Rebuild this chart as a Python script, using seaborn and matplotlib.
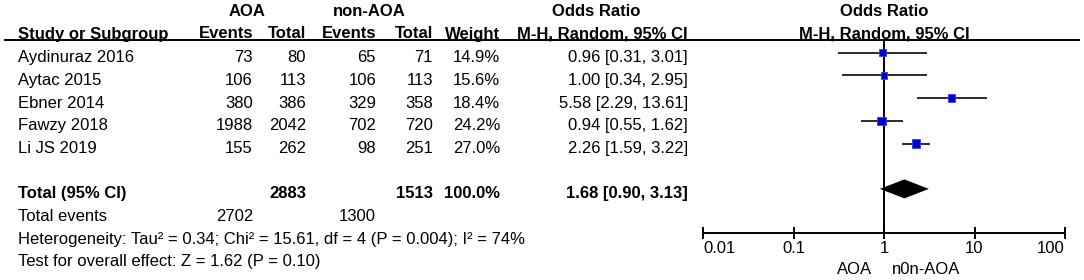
import numpy as np
import pandas as pd
import matplotlib
matplotlib.use("Agg")
import matplotlib.pyplot as plt
from matplotlib.ticker import NullLocator
import seaborn as sns

# ---------------- data ----------------
studies = ["Aydinuraz 2016", "Aytac 2015", "Ebner 2014", "Fawzy 2018", "Li JS 2019"]
aoa_events = [73, 106, 380, 1988, 155]
aoa_total = [80, 113, 386, 2042, 262]
non_events = [65, 106, 329, 702, 98]
non_total = [71, 113, 358, 720, 251]
weights = [14.9, 15.6, 18.4, 24.2, 27.0]
odds = [0.96, 1.00, 5.58, 0.94, 2.26]
ci_low = [0.31, 0.34, 2.29, 0.55, 1.59]
ci_high = [3.01, 2.95, 13.61, 1.62, 3.22]
total_aoa = 2883
total_non = 1513
total_weight = 100.0
total_events_aoa = 2702
total_events_non = 1300
total_or = 1.68
total_low = 0.90
total_high = 3.13
tick_values = [0.01, 0.1, 1, 10, 100]
tick_labels = ["0.01", "0.1", "1", "10", "100"]
heterogeneity = "Heterogeneity: Tau² = 0.34; Chi² = 15.61, df = 4 (P = 0.004); I² = 74%"
overall = "Test for overall effect: Z = 1.62 (P = 0.10)"
favours = ["AOA", "n0n-AOA"]

# ---------------- style ----------------
sns.set_theme(style="white")
plt.rcParams["font.family"] = ["Liberation Sans", "DejaVu Sans"]
FS = 12

W, H = 1084, 280
fig = plt.figure(figsize=(W / 100, H / 100), dpi=100)
fig.patch.set_facecolor("white")

# table axes in pixel coordinates
ax = fig.add_axes([0, 0, 1, 1])
ax.set_xlim(0, W)
ax.set_ylim(H, 0)
ax.axis("off")

# layout
x_name = 18
x_ae, x_at, x_ne, x_nt, x_w, x_or = 253, 306, 376, 433, 500, 688
y_h1, y_h2, y_rule = 12, 34, 40
row0, dy = 52.7, 22.7
txt_off = 5
row_y = [row0 + i * dy for i in range(len(studies))]
y_total = row0 + 6 * dy
y_tev = y_total + dy
y_het = y_tev + dy
y_test = y_het + dy

def t(x, y, s, ha="left", bold=False, fs=FS):
    ax.text(x, y, s, ha=ha, va="center", fontsize=fs,
            fontweight="bold" if bold else "normal", color="black")

# headers
t(247, y_h1, "AOA", ha="center", bold=True)
t(369, y_h1, "non-AOA", ha="center", bold=True)
t(596, y_h1, "Odds Ratio", ha="center", bold=True)
t(884, y_h1, "Odds Ratio", ha="center", bold=True)
t(x_name, y_h2, "Study or Subgroup", bold=True)
t(x_ae, y_h2, "Events", ha="right", bold=True)
t(x_at, y_h2, "Total", ha="right", bold=True)
t(x_ne, y_h2, "Events", ha="right", bold=True)
t(x_nt, y_h2, "Total", ha="right", bold=True)
t(x_w, y_h2, "Weight", ha="right", bold=True)
t(x_or, y_h2, "M-H, Random, 95% CI", ha="right", bold=True)
t(884, y_h2, "M-H, Random, 95% CI", ha="center", bold=True)
ax.hlines(y_rule, 4, 1080, color="black", lw=1.4)

# study rows
for i, name in enumerate(studies):
    y = row_y[i] + txt_off
    t(x_name, y, name)
    t(x_ae, y, f"{aoa_events[i]}", ha="right")
    t(x_at, y, f"{aoa_total[i]}", ha="right")
    t(x_ne, y, f"{non_events[i]}", ha="right")
    t(x_nt, y, f"{non_total[i]}", ha="right")
    t(x_w, y, f"{weights[i]:.1f}%", ha="right")
    t(x_or, y, f"{odds[i]:.2f} [{ci_low[i]:.2f}, {ci_high[i]:.2f}]", ha="right")

# totals
yt = y_total + txt_off
t(x_name, yt, "Total (95% CI)", bold=True)
t(x_at, yt, f"{total_aoa}", ha="right", bold=True)
t(x_nt, yt, f"{total_non}", ha="right", bold=True)
t(x_w, yt, f"{total_weight:.1f}%", ha="right", bold=True)
t(x_or, yt, f"{total_or:.2f} [{total_low:.2f}, {total_high:.2f}]", ha="right", bold=True)
t(x_name, y_tev + txt_off, "Total events")
t(x_ae, y_tev + txt_off, f"{total_events_aoa}", ha="right")
t(x_ne, y_tev + txt_off, f"{total_events_non}", ha="right")
t(x_name, y_het + txt_off, heterogeneity)
t(x_name, y_test + txt_off, overall)

# ---------------- forest axes ----------------
x0, x1, y_axis = 703, 1065, 233
fa = fig.add_axes([x0 / W, (H - y_axis) / H, (x1 - x0) / W, (y_axis - y_rule) / H])
fa.set_facecolor("none")
fa.set_xscale("log")
fa.set_xlim(tick_values[0], tick_values[-1])
fa.set_ylim(y_axis, y_rule)
for s in ["top", "left", "right"]:
    fa.spines[s].set_visible(False)
fa.spines["bottom"].set_color("black")
fa.spines["bottom"].set_linewidth(1.4)
fa.set_xticks(tick_values)
fa.set_xticklabels(tick_labels)
fa.xaxis.set_minor_locator(NullLocator())
fa.tick_params(axis="x", direction="inout", length=8, width=1.4, colors="black",
               labelsize=FS, pad=2, bottom=True)
fa.set_yticks([])
fa.grid(False)
tl = fa.get_xticklabels()
tl[0].set_horizontalalignment("left")
tl[-1].set_horizontalalignment("right")

fa.axvline(1, color="black", lw=1.4, zorder=1)
fa.hlines(row_y, ci_low, ci_high, color="#1a1a1a", lw=1.3, zorder=2)

df = pd.DataFrame({"odds": odds, "y": row_y, "weight": weights})
sns.scatterplot(data=df, x="odds", y="y", size="weight", sizes=(22, 40),
                size_norm=(weights[0], weights[-1]), marker="s",
                color="#0000CC", edgecolor="#3a3aff", linewidth=0.6,
                legend=False, ax=fa, zorder=3, clip_on=False)
fa.set_xlabel("")
fa.set_ylabel("")

half = 9.5
fa.fill([total_low, total_or, total_high, total_or],
        [y_total, y_total - half, y_total, y_total + half],
        color="black", zorder=3, lw=0)

# favours labels
t(872, 270, favours[0], ha="right")
t(892, 270, favours[1], ha="left")

fig.savefig("out.png", dpi=100, facecolor="white")
